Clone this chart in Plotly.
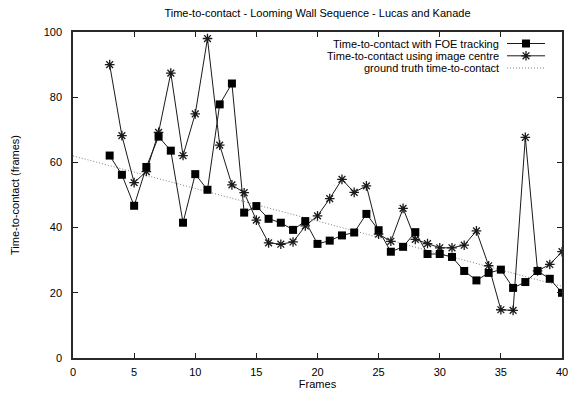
import plotly.graph_objects as go

frames = list(range(3, 41))
foe_tracking = [62.1, 56.2, 46.7, 58.6, 67.9, 63.6, 41.5, 56.4, 51.6, 77.8, 84.2,
                44.6, 46.6, 42.7, 41.5, 39.3, 42.0, 35.0, 36.0, 37.6, 38.5, 44.2, 39.2, 32.6, 34.1, 38.6,
                31.9, 31.9, 31.0, 26.7, 23.8, 26.1, 27.1, 21.5, 23.3, 26.7, 24.3, 20.0]
image_centre = [90.0, 68.2, 53.8, 57.2, 69.2, 87.4, 62.1, 74.9, 98.0, 65.3, 53.1,
                50.7, 42.3, 35.3, 34.9, 35.6, 40.5, 43.6, 48.9, 54.8, 50.8, 52.8, 38.0, 35.8, 45.9, 36.4,
                35.1, 33.8, 33.8, 34.6, 39.0, 28.3, 14.8, 14.6, 67.7, 26.7, 28.7, 32.6]
truth_frames = [0, 40]
truth_values = [62.0, 22.0]

legend_names = ["Time-to-contact with FOE tracking",
                "Time-to-contact using image centre",
                "ground truth time-to-contact"]

FONT = "Liberation Sans, Arial, Helvetica, sans-serif"
LINE = "#1a1a1a"
DOT = "1px,2px"

fig = go.Figure()
fig.add_trace(go.Scatter(x=truth_frames, y=truth_values, mode="lines",
                         line=dict(color="#808080", width=1, dash=DOT), hoverinfo="skip"))
fig.add_trace(go.Scatter(x=frames, y=image_centre, mode="lines+markers",
                         line=dict(color=LINE, width=1),
                         marker=dict(symbol="asterisk-open", size=8, color=LINE,
                                     line=dict(color=LINE, width=1.3))))
fig.add_trace(go.Scatter(x=frames, y=foe_tracking, mode="lines+markers",
                         line=dict(color=LINE, width=1),
                         marker=dict(symbol="square", size=8, color="black",
                                     line=dict(width=0))))

# legend samples on a pixel-coordinate overlay axis
L = dict(l=73, r=18, t=32, b=41)
W, H = 580, 399
fig.update_layout(
    xaxis2=dict(overlaying="x", range=[L["l"], W - L["r"]], visible=False, fixedrange=True),
    yaxis2=dict(overlaying="y", range=[H - L["b"], L["t"]], visible=False, fixedrange=True),
)
rows = [43.5, 55.8, 68.0]
sx = [507, 545]
fig.add_trace(go.Scatter(x=sx, y=[rows[0]] * 2, xaxis="x2", yaxis="y2", mode="lines",
                         line=dict(color=LINE, width=1), hoverinfo="skip"))
fig.add_trace(go.Scatter(x=[526], y=[rows[0]], xaxis="x2", yaxis="y2", mode="markers",
                         marker=dict(symbol="square", size=8, color="black", line=dict(width=0))))
fig.add_trace(go.Scatter(x=sx, y=[rows[1]] * 2, xaxis="x2", yaxis="y2", mode="lines",
                         line=dict(color=LINE, width=1), hoverinfo="skip"))
fig.add_trace(go.Scatter(x=[526], y=[rows[1]], xaxis="x2", yaxis="y2", mode="markers",
                         marker=dict(symbol="asterisk-open", size=8, color=LINE,
                                     line=dict(color=LINE, width=1.3))))
fig.add_trace(go.Scatter(x=sx, y=[rows[2]] * 2, xaxis="x2", yaxis="y2", mode="lines",
                         line=dict(color="#808080", width=1, dash=DOT), hoverinfo="skip"))
for name, yy in zip(legend_names, rows):
    fig.add_annotation(x=501, y=yy, xref="x2", yref="y2", text=name, showarrow=False,
                       xanchor="right", yanchor="middle", font=dict(size=11, color="black", family=FONT))

fig.update_layout(
    width=W, height=H, margin=L,
    paper_bgcolor="white", plot_bgcolor="white",
    showlegend=False,
    font=dict(family=FONT, size=11, color="black"),
    title=dict(text="Time-to-contact - Looming Wall Sequence - Lucas and Kanade",
               x=0.5, xref="paper", xanchor="center", y=0.966, yanchor="middle",
               font=dict(size=11, family=FONT, color="black")),
    xaxis=dict(range=[0, 40], dtick=5, tick0=0, ticks="inside", ticklen=5, tickwidth=1,
               tickcolor=LINE, showline=True, linecolor="#2a2a2a", linewidth=1.5, mirror="ticks",
               showgrid=False, zeroline=False, ticklabelstandoff=3, automargin=False,
               title=dict(text="Frames", standoff=2, font=dict(size=11))),
    yaxis=dict(range=[0, 100], dtick=20, tick0=0, ticks="inside", ticklen=5, tickwidth=1,
               tickcolor=LINE, showline=True, linecolor="#2a2a2a", linewidth=1.5, mirror="ticks",
               showgrid=False, zeroline=False, ticklabelstandoff=7, automargin=False,
               title=dict(text="Time-to-contact (frames)", standoff=22, font=dict(size=11))),
)
fig.write_html("out.html")
